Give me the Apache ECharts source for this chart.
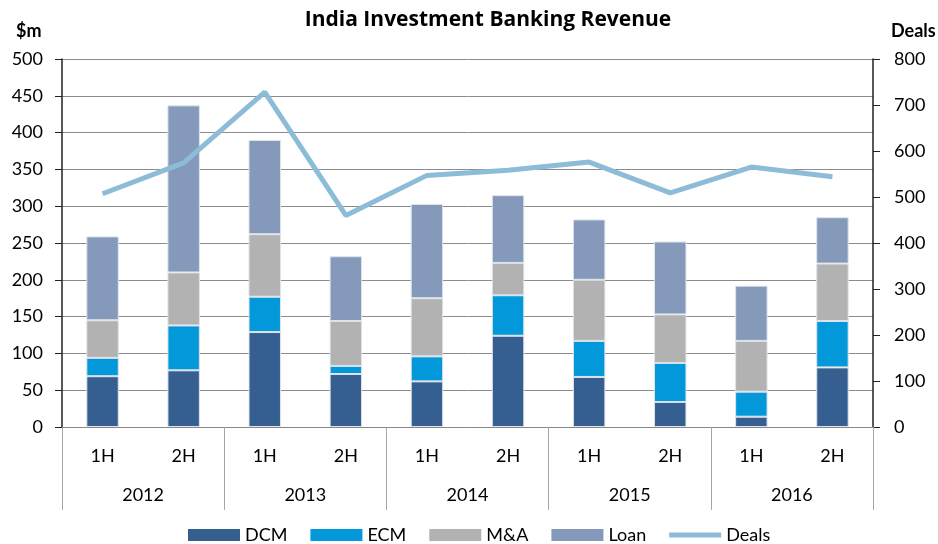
<!DOCTYPE html>
<html>
<head>
<meta charset="utf-8">
<script src="https://cdn.jsdelivr.net/npm/echarts@6/dist/echarts.min.js"></script>
<style>
	html, body { margin: 0; padding: 0; background: #fff; }
	#chart { width: 938px; height: 544px; }
</style>
</head>
<body>
<div id="chart"></div>
<script>
/* data */
const halves = ['1H', '2H', '1H', '2H', '1H', '2H', '1H', '2H', '1H', '2H'];
const years = ['2012', '2013', '2014', '2015', '2016'];
const dcm = [69, 77, 129, 72, 62, 124, 68, 34, 14, 81];
const ecm = [25, 61, 48, 11, 34, 55, 49, 53, 34, 63];
const mna = [51, 72, 85, 61, 79, 44, 83, 66, 69, 78];
const loan = [114, 227, 128, 88, 128, 92, 82, 99, 75, 63];
const deals = [507, 574, 728, 460, 547, 558, 576, 509, 565, 544];

const font = 'Lato, "Open Sans", sans-serif';
const chart = echarts.init(document.getElementById('chart'));

const barSeries = (name, data, color) => ({
	name,
	type: 'bar',
	stack: 'rev',
	barWidth: '40%',
	data,
	itemStyle: {
		color,
		borderColor: '#dfe3ea',
		borderWidth: 1
	}
});

chart.setOption({
	animation: false,
	textStyle: { fontFamily: font, color: '#000' },
	title: [
		{ text: 'India Investment Banking Revenue', left: 483, textAlign: 'center', top: 5, textStyle: { fontFamily: '"Open Sans", sans-serif', fontSize: 21, fontWeight: 'bold', color: '#000' } },
		{ text: '$m', left: 11, top: 17, textStyle: { fontFamily: font, fontSize: 18, fontWeight: 'bold', color: '#000' } },
		{ text: 'Deals', left: 886, top: 17, textStyle: { fontFamily: font, fontSize: 18, fontWeight: 'bold', color: '#000' } }
	],
	grid: {
		left: 62,
		right: 65,
		top: 59,
		bottom: 117
	},
	legend: {
		top: 521,
		left: 183,
		itemWidth: 52,
		itemHeight: 12,
		itemGap: 23,
		itemStyle: { borderWidth: 0 },
		textStyle: { fontFamily: font, fontSize: 18, color: '#000' },
		data: [
			{ name: 'DCM', icon: 'rect' },
			{ name: 'ECM', icon: 'rect' },
			{ name: 'M&A', icon: 'rect' },
			{ name: 'Loan', icon: 'rect' },
			{ name: 'Deals', icon: 'path://M0,0L100,0L100,10L0,10Z' }
		]
	},
	xAxis: [
		{
			type: 'category',
			data: halves,
			position: 'bottom',
			axisLine: { lineStyle: { color: '#888', width: 1 } },
			axisTick: { show: false },
			axisLabel: { fontSize: 18, color: '#000', margin: 20, fontFamily: font }
		},
		{
			type: 'category',
			data: years,
			position: 'bottom',
			axisLine: { show: false },
			axisTick: { show: true, length: 83, lineStyle: { color: '#a6a6a6' } },
			axisLabel: { fontSize: 18, color: '#000', margin: 59, fontFamily: font }
		}
	],
	yAxis: [
		{
			type: 'value',
			min: 0,
			max: 500,
			interval: 50,
			axisLine: { show: true, lineStyle: { color: '#222', width: 1.5 } },
			axisTick: { show: true, length: 7, lineStyle: { color: '#222' } },
			axisLabel: { fontSize: 18, color: '#000', margin: 19, fontFamily: font },
			splitLine: { lineStyle: { color: '#8c8c8c', width: 1 } }
		},
		{
			type: 'value',
			min: 0,
			max: 800,
			interval: 100,
			position: 'right',
			axisLine: { show: true, lineStyle: { color: '#222', width: 1.5 } },
			axisTick: { show: true, length: 7, lineStyle: { color: '#222' } },
			axisLabel: { fontSize: 18, color: '#000', margin: 21, fontFamily: font },
			splitLine: { show: false }
		}
	],
	series: [
		barSeries('DCM', dcm, '#355f91'),
		barSeries('ECM', ecm, '#0398d9'),
		barSeries('M&A', mna, '#b1b2b1'),
		barSeries('Loan', loan, '#8599ba'),
		{
			name: 'Deals',
			type: 'line',
			yAxisIndex: 1,
			data: deals,
			symbol: 'none',
			lineStyle: { color: '#8dbcd9', width: 5 },
			itemStyle: { color: '#8dbcd9' },
			z: 5
		}
	]
});
</script>
</body>
</html>
